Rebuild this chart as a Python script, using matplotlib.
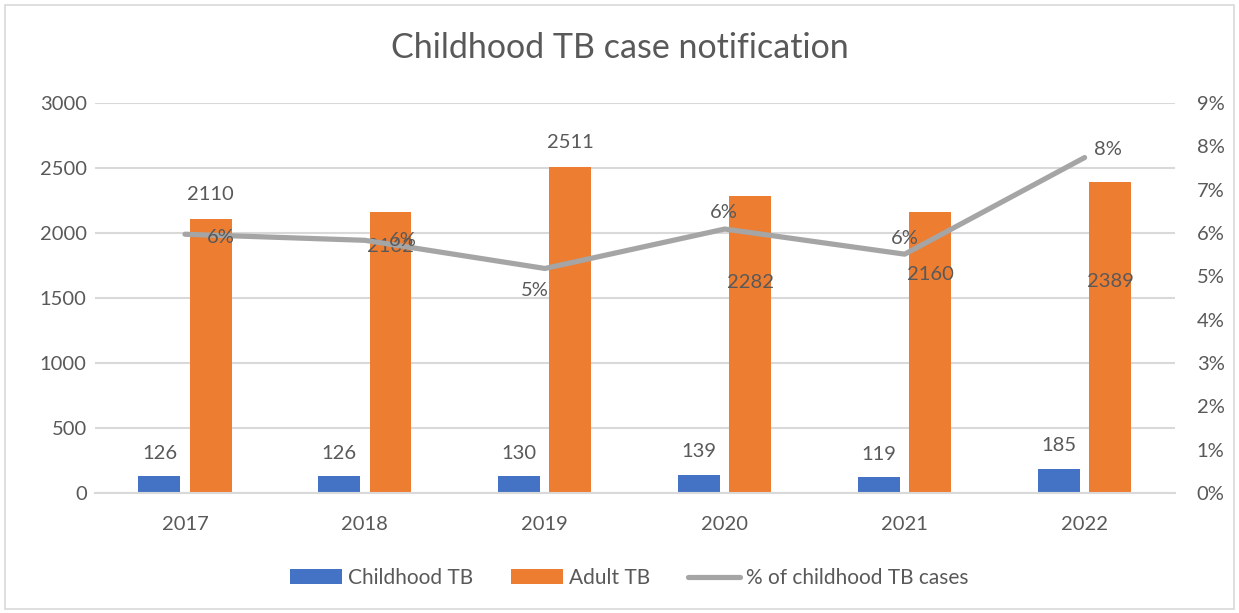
import matplotlib
matplotlib.use("Agg")
import matplotlib.pyplot as plt
import numpy as np
from matplotlib.patches import Rectangle

plt.rcParams['font.family'] = ['Lato', 'DejaVu Sans']

years = ["2017", "2018", "2019", "2020", "2021", "2022"]
childhood_tb = [126, 126, 130, 139, 119, 185]
adult_tb = [2110, 2162, 2511, 2282, 2160, 2389]
pct_childhood = [5.97, 5.83, 5.18, 6.09, 5.51, 7.74]
pct_labels = ["6%", "6%", "5%", "6%", "6%", "8%"]

BLUE = "#4472C4"
ORANGE = "#ED7D31"
GRAY = "#A5A5A5"
TXT = "#595959"
GRID = "#D9D9D9"
FS = 14.5

fig = plt.figure(figsize=(12.39, 6.13), dpi=100)
fig.patches.append(Rectangle((0.004, 0.006), 0.992, 0.986, transform=fig.transFigure,
                             fill=False, edgecolor="#D9D9D9", linewidth=1.2))
ax = fig.add_axes([0.0767, 0.196, 0.8713, 0.636])
ax2 = ax.twinx()

x = np.arange(len(years))
w = 0.233
off = 0.142
b1 = ax.bar(x - off, childhood_tb, w, color=BLUE, label="Childhood TB", zorder=2)
b2 = ax.bar(x + off, adult_tb, w, color=ORANGE, label="Adult TB", zorder=2)

ax.set_xlim(-0.5, len(years) - 0.5)
ax.set_ylim(0, 3000)
ax.set_yticks(np.arange(0, 3001, 500))
ax.yaxis.grid(True, color=GRID, linewidth=1.5)
ax.set_axisbelow(True)
ax.set_xticks(x)
ax.set_xticklabels(years)
for s in ax.spines.values():
    s.set_visible(False)
for s in ax2.spines.values():
    s.set_visible(False)
ax.spines['bottom'].set_visible(True)
ax.spines['bottom'].set_color(GRID)
ax.spines['bottom'].set_linewidth(1.5)
ax.tick_params(axis='both', length=0, colors=TXT, labelsize=FS)
ax.tick_params(axis='x', pad=17)
ax.tick_params(axis='y', pad=6)

ax2.set_ylim(0, 9)
ax2.set_yticks(np.arange(0, 10, 1))
ax2.set_yticklabels([f"{i}%" for i in range(10)])
ax2.tick_params(axis='y', length=0, colors=TXT, labelsize=FS, pad=16)
line, = ax2.plot(x, pct_childhood, color=GRAY, linewidth=3.75, solid_capstyle='round',
                 label="% of childhood TB cases", zorder=3)

# data labels
lab_kw = dict(color=TXT, fontsize=FS, ha='center', va='center')
for xi, v in zip(x, childhood_tb):
    ax.annotate(str(v), (xi - off, v), xytext=(0, 16.5), textcoords='offset points',
                **lab_kw)
adult_label_y = [None, 1892, None, 1615, 1677, 1623]
for xi, v, ly in zip(x, adult_tb, adult_label_y):
    if ly is None:
        ax.annotate(str(v), (xi + off, v), xytext=(0, 17.5), textcoords='offset points',
                    **lab_kw)
    else:
        ax.text(xi + off, ly, str(v), **lab_kw)

pct_offsets = [(26, -2), (27, 0), (-7, -16), (-1, 12), (0, 11.5), (16.5, 5.5)]
for xi, v, lbl, (dx, dy) in zip(x, pct_childhood, pct_labels, pct_offsets):
    ax2.annotate(lbl, (xi, v), xytext=(dx, dy), textcoords='offset points', **lab_kw)

fig.text(0.5, 0.921, "Childhood TB case notification", ha='center', va='center',
         fontsize=24.5, color=TXT)

handles = [b1, b2, line]
fig.legend(handles, [h.get_label() for h in handles], loc='center',
           bbox_to_anchor=(0.508, 0.057), ncol=3, frameon=False, fontsize=15,
           labelcolor=TXT, handlelength=2.5, handletextpad=0.3, columnspacing=1.8)

fig.savefig("out.png", dpi=100)
